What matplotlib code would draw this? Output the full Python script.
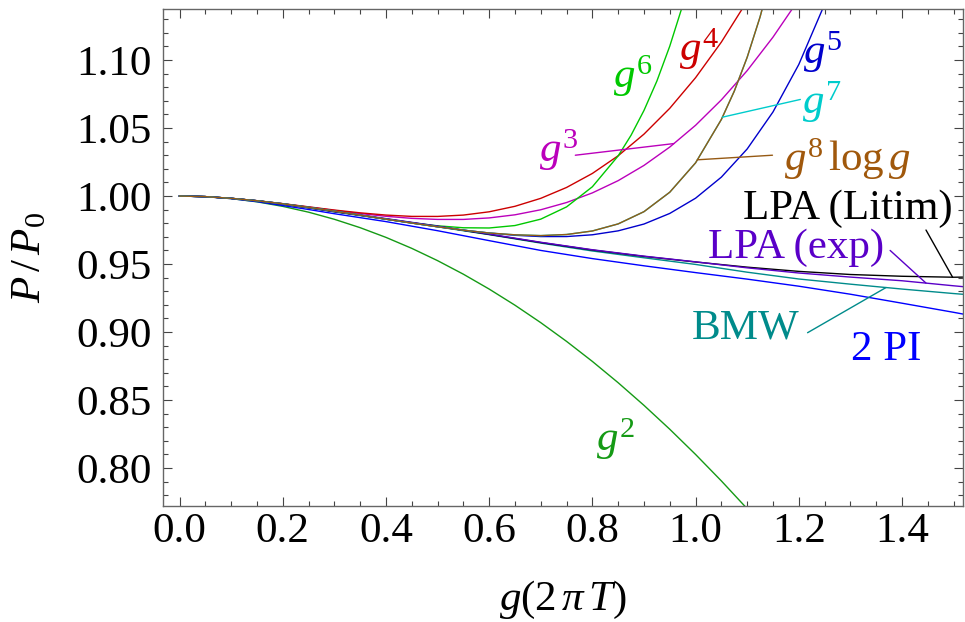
import numpy as np
import matplotlib
matplotlib.use('Agg')
import matplotlib.pyplot as plt
from matplotlib.ticker import MultipleLocator, FormatStrFormatter

plt.rcParams['font.family'] = ['Liberation Serif', 'DejaVu Serif']
plt.rcParams['mathtext.fontset'] = 'custom'
plt.rcParams['mathtext.rm'] = 'Liberation Serif'
plt.rcParams['mathtext.it'] = 'Liberation Serif:italic'
plt.rcParams['mathtext.bf'] = 'Liberation Serif:bold'

# weak-coupling expansions
x_g2 = [0, .05, .1, .15, .2, .25, .3, .35, .4, .45, .5, .55, .6, .65, .7, .75, .8, .85,
        .9, .95, 1.0, 1.05, 1.1]
P_g2 = [1, .99953, .9981, .99573, .9924, .98813, .9829, .97673, .9696, .96153, .9525,
        .94253, .9316, .91973, .9069, .89313, .8784, .86273, .8461, .82853, .8100,
        .79053, .7701]

x_g3 = [0, .05, .1, .15, .2, .25, .3, .35, .4, .45, .5, .55, .6, .65, .7, .75, .8, .85,
        .9, .95, 1.0, 1.05, 1.1, 1.15, 1.2]
P_g3 = [1, .99956, .9983, .99655, .9943, .99191, .9894, .98711, .9851, .98358, .9828,
        .98279, .9839, .98619, .9899, .99522, 1.0023, 1.0113, 1.0225, 1.0360, 1.0520,
        1.0707, 1.0922, 1.1168, 1.1446]

x_g4 = [0, .05, .1, .15, .2, .25, .3, .35, .4, .45, .5, .55, .6, .65, .7, .75, .8, .85,
        .9, .95, 1.0, 1.05, 1.1]
P_g4 = [1, .99956, .9983, .99657, .9944, .99205, .9897, .98764, .9860, .98502, .9850,
        .98599, .9884, .99244, .9983, 1.00629, 1.0166, 1.0296, 1.0455, 1.0645, 1.0870,
        1.1132, 1.1434]

x_g5 = [0, .05, .1, .15, .2, .25, .3, .35, .4, .45, .5, .55, .6, .65, .7, .75, .8, .85,
        .9, .95, 1.0, 1.05, 1.1, 1.15, 1.2, 1.25]
P_g5 = [1, .99956, .9983, .99653, .9943, .99167, .9889, .98596, .9830, .98014, .9774,
        .9749, .9728, .97113, .9702, .9702, .9715, .9744, .9794, .9872, .9984, 1.0139,
        1.0346, 1.0618, 1.0967, 1.1410]

x_g6 = [0, .05, .1, .15, .2, .25, .3, .35, .4, .45, .5, .55, .6, .65, .7, .75, .8, .85,
        .875, .9, .925, .95, .975, 1.0]
P_g6 = [1, .99956, .9983, .99653, .9943, .99167, .9888, .98592, .9830, .98035, .9781,
        .97666, .9765, .9783, .9830, .9920, 1.0068, 1.0295, 1.0447, 1.0629, 1.0845,
        1.1102, 1.1402, 1.1754]

# g^7 and g^8 log g lie on top of each other
x_g8 = [0, .05, .1, .15, .2, .25, .3, .35, .4, .45, .5, .55, .6, .65, .7, .75, .8, .85,
        .9, .95, 1.0, 1.05, 1.075, 1.1, 1.125, 1.15]
P_g8 = [1, .99956, .9983, .99653, .9943, .99167, .9889, .98596, .9830, .98014, .9774,
        .9749, .9728, .97148, .9709, .9717, .9743, .9795, .9885, 1.0028, 1.0244, 1.0563,
        1.0771, 1.1020, 1.1317, 1.1670]
x_g7 = x_g8
P_g7 = P_g8

# resummed / non-perturbative results
x_np = [0, .05, .1, .15, .2, .25, .3, .4, .5, .6, .7, .8, .9, 1.0, 1.1, 1.2, 1.3, 1.4,
        1.5, 1.52]
P_litim = [1, .99955, .9983, .9965, .9940, .9914, .9885, .9832, .9777, .9718, .9658,
           .9603, .9556, .9515, .9477, .9446, .9423, .9410, .9403, .9404]
P_exp = [1, .99955, .9983, .9965, .9941, .9915, .9887, .9834, .9779, .9720, .9660,
         .9605, .9558, .9516, .9472, .9434, .9404, .9377, .9340, .9333]
P_bmw = [1, .99955, .9983, .9965, .9940, .9913, .9884, .9829, .9774, .9716, .9654,
         .9596, .9546, .9497, .9440, .9390, .9352, .9316, .9283, .9277]
P_2pi = [1, .9995, .9981, .9959, .9930, .9901, .9870, .9812, .9745, .9672, .9600,
         .9540, .9487, .9437, .9389, .9337, .9278, .9212, .9145, .9131]

fig = plt.figure(figsize=(9.65, 6.22), dpi=100)
ax = fig.add_axes([163/965, 1 - 506/622, 800/965, 497/622])

lw = 1.0
ax.plot(x_g2, P_g2, color='#159a15', lw=lw)
ax.plot(x_g3, P_g3, color='#bb00bb', lw=lw)
ax.plot(x_g4, P_g4, color='#cc0000', lw=lw)
ax.plot(x_g6, P_g6, color='#00c800', lw=lw)
ax.plot(x_np, P_2pi, color='#0000ff', lw=lw)
ax.plot(x_np, P_bmw, color='#008b8b', lw=lw)
ax.plot(x_np, P_litim, color='black', lw=lw)
ax.plot(x_np, P_exp, color='#5a00c8', lw=lw)
ax.plot(x_g5, P_g5, color='#0000cc', lw=lw)
ax.plot(x_g7, P_g7, color='#00cccc', lw=lw)
ax.plot(x_g8, P_g8, color='#965a14', lw=lw)

ax.set_xlim(-0.032, 1.5182)
ax.set_ylim(0.7721, 1.1375)

fs = 31
ax.text(0.878, 1.088, '$g^6$', color='#00c800', fontsize=fs, ha='center', va='center')
ax.text(1.006, 1.108, '$g^4$', color='#cc0000', fontsize=fs, ha='center', va='center')
ax.text(1.245, 1.106, '$g^5$', color='#0000cc', fontsize=fs, ha='center', va='center')
ax.text(1.245, 1.069, '$g^7$', color='#00cccc', fontsize=fs, ha='center', va='center')
ax.text(1.295, 1.027, r'$g^8\,\mathrm{log}\,g$', color='#a0580c', fontsize=fs,
        ha='center', va='center')
ax.text(0.734, 1.034, '$g^3$', color='#bb00bb', fontsize=fs, ha='center', va='center')
ax.text(0.845, 0.821, '$g^2$', color='#159a15', fontsize=fs, ha='center', va='center')
ax.text(1.295, 0.991, 'LPA (Litim)', color='black', fontsize=fs, ha='center', va='center')
ax.text(1.194, 0.962, 'LPA (exp)', color='#5a00c8', fontsize=fs, ha='center', va='center')
ax.text(1.097, 0.903, 'BMW', color='#008b8b', fontsize=fs, ha='center', va='center')
ax.text(1.369, 0.887, '2 PI', color='#0000ff', fontsize=fs, ha='center', va='center')

def pointer(x_end, xs, ys, start, color):
    y_end = np.interp(x_end, xs, ys)
    ax.annotate('', xy=(x_end, y_end), xytext=start,
                arrowprops=dict(arrowstyle='-', color=color, lw=1.0,
                                shrinkA=0, shrinkB=0))

pointer(0.958, x_g3, P_g3, (0.767, 1.030), '#bb00bb')
pointer(1.052, x_g7, P_g7, (1.203, 1.071), '#00cccc')
pointer(1.0035, x_g8, P_g8, (1.149, 1.030), '#965a14')
pointer(1.4465, x_np, P_exp, (1.377, 0.960), '#5a00c8')
pointer(1.498, x_np, P_litim, (1.4465, 0.975), 'black')
pointer(1.369, x_np, P_bmw, (1.217, 0.8995), '#008b8b')

ax.xaxis.set_major_locator(MultipleLocator(0.2))
ax.xaxis.set_minor_locator(MultipleLocator(0.05))
ax.yaxis.set_major_locator(MultipleLocator(0.05))
ax.yaxis.set_minor_locator(MultipleLocator(0.01))
ax.xaxis.set_major_formatter(FormatStrFormatter('%.1f'))
ax.yaxis.set_major_formatter(FormatStrFormatter('%.2f'))

ax.tick_params(which='both', direction='in', top=True, right=True,
               color='#444444', width=0.8, labelsize=fs)
ax.tick_params(which='major', length=6.5)
ax.tick_params(which='minor', length=3.6)
ax.tick_params(axis='x', pad=5)
ax.tick_params(axis='y', pad=8)
for s in ax.spines.values():
    s.set_color('#666666')
    s.set_linewidth(1.0)

ax.set_xlabel(r'$g(2\,\pi\,T)$', fontsize=fs, va='center')
ax.xaxis.set_label_coords(0.5, -0.19)
ax.set_ylabel(r'$P\,/\,P_0$', fontsize=fs, va='center')
ax.yaxis.set_label_coords(-0.166, 0.5)

fig.savefig('out.png', dpi=100)
